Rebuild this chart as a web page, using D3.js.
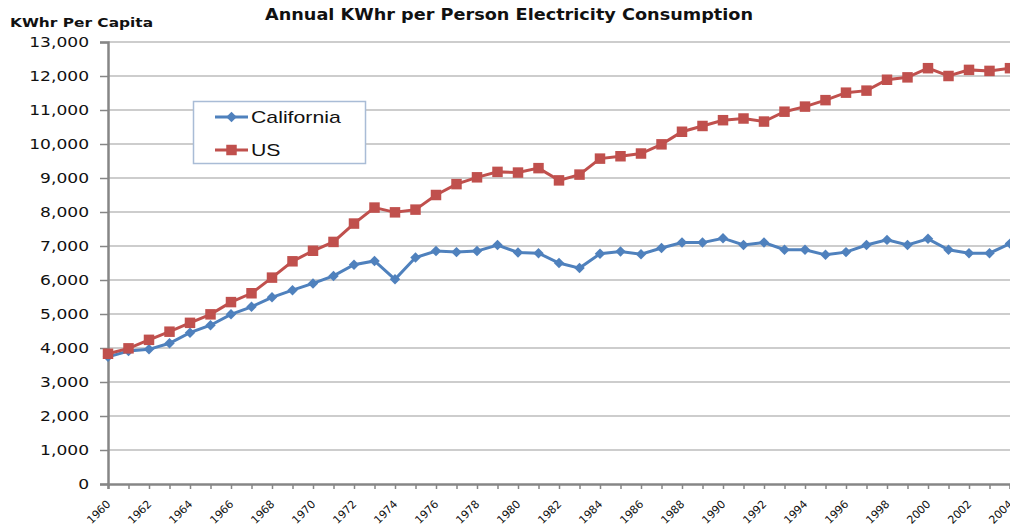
<!DOCTYPE html>
<html>
<head>
<meta charset="utf-8">
<script src="https://cdn.jsdelivr.net/npm/d3@7"></script>
<style>
  body { margin: 0; background: #fff; }
  svg { display: block; }
</style>
</head>
<body>
<div id="chart"></div>
<script>
// years on the category axis
var years = d3.range(1960, 2005);

// KWhr per person
var california = [3740, 3910, 3960, 4140, 4450, 4670, 4990, 5210, 5490, 5700,
                  5900, 6120, 6450, 6560, 6020, 6660, 6850, 6820, 6850, 7030,
                  6810, 6790, 6500, 6350, 6770, 6840, 6760, 6940, 7100, 7100,
                  7230, 7030, 7100, 6890, 6890, 6740, 6820, 7030, 7180, 7030,
                  7210, 6890, 6790, 6790, 7070];
var us = [3830, 3990, 4240, 4480, 4740, 4990, 5350, 5610, 6070, 6550,
          6860, 7120, 7660, 8130, 7990, 8070, 8500, 8820, 9020, 9180,
          9160, 9290, 8930, 9100, 9570, 9640, 9720, 9990, 10360, 10530,
          10700, 10750, 10660, 10950, 11100, 11290, 11510, 11570, 11890, 11960,
          12230, 12000, 12180, 12150, 12230];

var yTicks = d3.range(0, 13001, 1000);
var seriesNames = ["California", "US"];

var W = 1010, H = 527;
var x = d3.scaleLinear().domain([1960, 2004]).range([108, 1010]);
var y = d3.scaleLinear().domain([0, 13000]).range([484, 42]);

var FONT = "DejaVu Sans, Verdana, sans-serif";

// the original picture is a bit wide, so widen the glyphs to match
function stretch(sel, k) {
    sel.each(function() {
        var len = this.getComputedTextLength();
        d3.select(this)
            .attr("textLength", len * k)
            .attr("lengthAdjust", "spacingAndGlyphs");
    });
}

var svg = d3.select("#chart").append("svg")
    .attr("width", W)
    .attr("height", H);

// gridlines
svg.append("g")
    .selectAll("line")
    .data(yTicks.filter(function(d) { return d > 0; }))
    .join("line")
      .attr("x1", 108).attr("x2", W)
      .attr("y1", function(d) { return y(d); })
      .attr("y2", function(d) { return y(d); })
      .attr("stroke", "#bdbdbd")
      .attr("stroke-width", 1.5);

// y axis
var yAxis = svg.append("g")
    .attr("transform", "translate(108,0)")
    .call(d3.axisLeft(y).tickValues(yTicks).tickSize(8).tickPadding(11)
        .tickFormat(d3.format(",")));
yAxis.select(".domain").attr("stroke", "#868686").attr("stroke-width", 2.5);
yAxis.selectAll(".tick line").attr("stroke", "#868686").attr("stroke-width", 1.5);
yAxis.selectAll(".tick text")
    .attr("font-family", FONT)
    .attr("font-size", 14)
    .attr("fill", "#111")
    .call(stretch, 1.22);

// x axis
var xAxis = svg.append("g")
    .attr("transform", "translate(0," + y(0) + ")")
    .call(d3.axisBottom(x).tickValues(years).tickSize(5)
        .tickFormat(function(d) { return d % 2 === 0 ? d : ""; }));
xAxis.select(".domain").attr("stroke", "#868686").attr("stroke-width", 2.5);
xAxis.selectAll(".tick line").attr("stroke", "#868686").attr("stroke-width", 1.5);
xAxis.selectAll(".tick text")
    .attr("font-family", FONT)
    .attr("font-size", 11)
    .attr("fill", "#111")
    .attr("text-anchor", "end")
    .attr("x", 0).attr("y", 0)
    .attr("dy", "0.35em")
    .attr("transform", "translate(0,18) rotate(-45)");

// lines and markers
var line = d3.line()
    .x(function(d, i) { return x(years[i]); })
    .y(function(d) { return y(d); });

svg.append("path")
    .datum(california)
    .attr("d", line)
    .attr("fill", "none")
    .attr("stroke", "#4f81bd")
    .attr("stroke-width", 3);

svg.append("path")
    .datum(us)
    .attr("d", line)
    .attr("fill", "none")
    .attr("stroke", "#c0504d")
    .attr("stroke-width", 3);

var diamond = d3.symbol().type(d3.symbolDiamond2).size(70);
var square = d3.symbol().type(d3.symbolSquare).size(110);

svg.append("g")
    .selectAll("path")
    .data(california)
    .join("path")
      .attr("d", diamond)
      .attr("transform", function(d, i) { return "translate(" + x(years[i]) + "," + y(d) + ")"; })
      .attr("fill", "#4f81bd");

svg.append("g")
    .selectAll("path")
    .data(us)
    .join("path")
      .attr("d", square)
      .attr("transform", function(d, i) { return "translate(" + x(years[i]) + "," + y(d) + ")"; })
      .attr("fill", "#c0504d");

// legend
var legend = svg.append("g");
legend.append("rect")
    .attr("x", 193.5).attr("y", 101.5)
    .attr("width", 172).attr("height", 62)
    .attr("fill", "#fff")
    .attr("stroke", "#a9bcd6")
    .attr("stroke-width", 1.5);

var legendItems = [
    { name: seriesNames[0], color: "#4f81bd", sym: diamond, cy: 117 },
    { name: seriesNames[1], color: "#c0504d", sym: square, cy: 150 }
];
legendItems.forEach(function(it) {
    legend.append("line")
        .attr("x1", 215).attr("x2", 248)
        .attr("y1", it.cy).attr("y2", it.cy)
        .attr("stroke", it.color)
        .attr("stroke-width", 3);
    legend.append("path")
        .attr("d", it.sym)
        .attr("transform", "translate(231.5," + it.cy + ")")
        .attr("fill", it.color);
    legend.append("text")
        .attr("x", 251).attr("y", it.cy)
        .attr("dy", "0.35em")
        .attr("font-family", "Liberation Sans, Arial, sans-serif")
        .attr("font-size", 17)
        .attr("fill", "#111")
        .text(it.name)
        .call(stretch, 1.25);
});

// titles
svg.append("text")
    .attr("x", 509).attr("y", 20)
    .attr("text-anchor", "middle")
    .attr("font-family", FONT)
    .attr("font-weight", "bold")
    .attr("font-size", 16.5)
    .attr("fill", "#111")
    .attr("textLength", 488)
    .attr("lengthAdjust", "spacingAndGlyphs")
    .text("Annual KWhr per Person Electricity Consumption");

svg.append("text")
    .attr("x", 10).attr("y", 27)
    .attr("font-family", FONT)
    .attr("font-weight", "bold")
    .attr("font-size", 12.5)
    .attr("fill", "#111")
    .attr("textLength", 143)
    .attr("lengthAdjust", "spacingAndGlyphs")
    .text("KWhr Per Capita");
</script>
</body>
</html>
